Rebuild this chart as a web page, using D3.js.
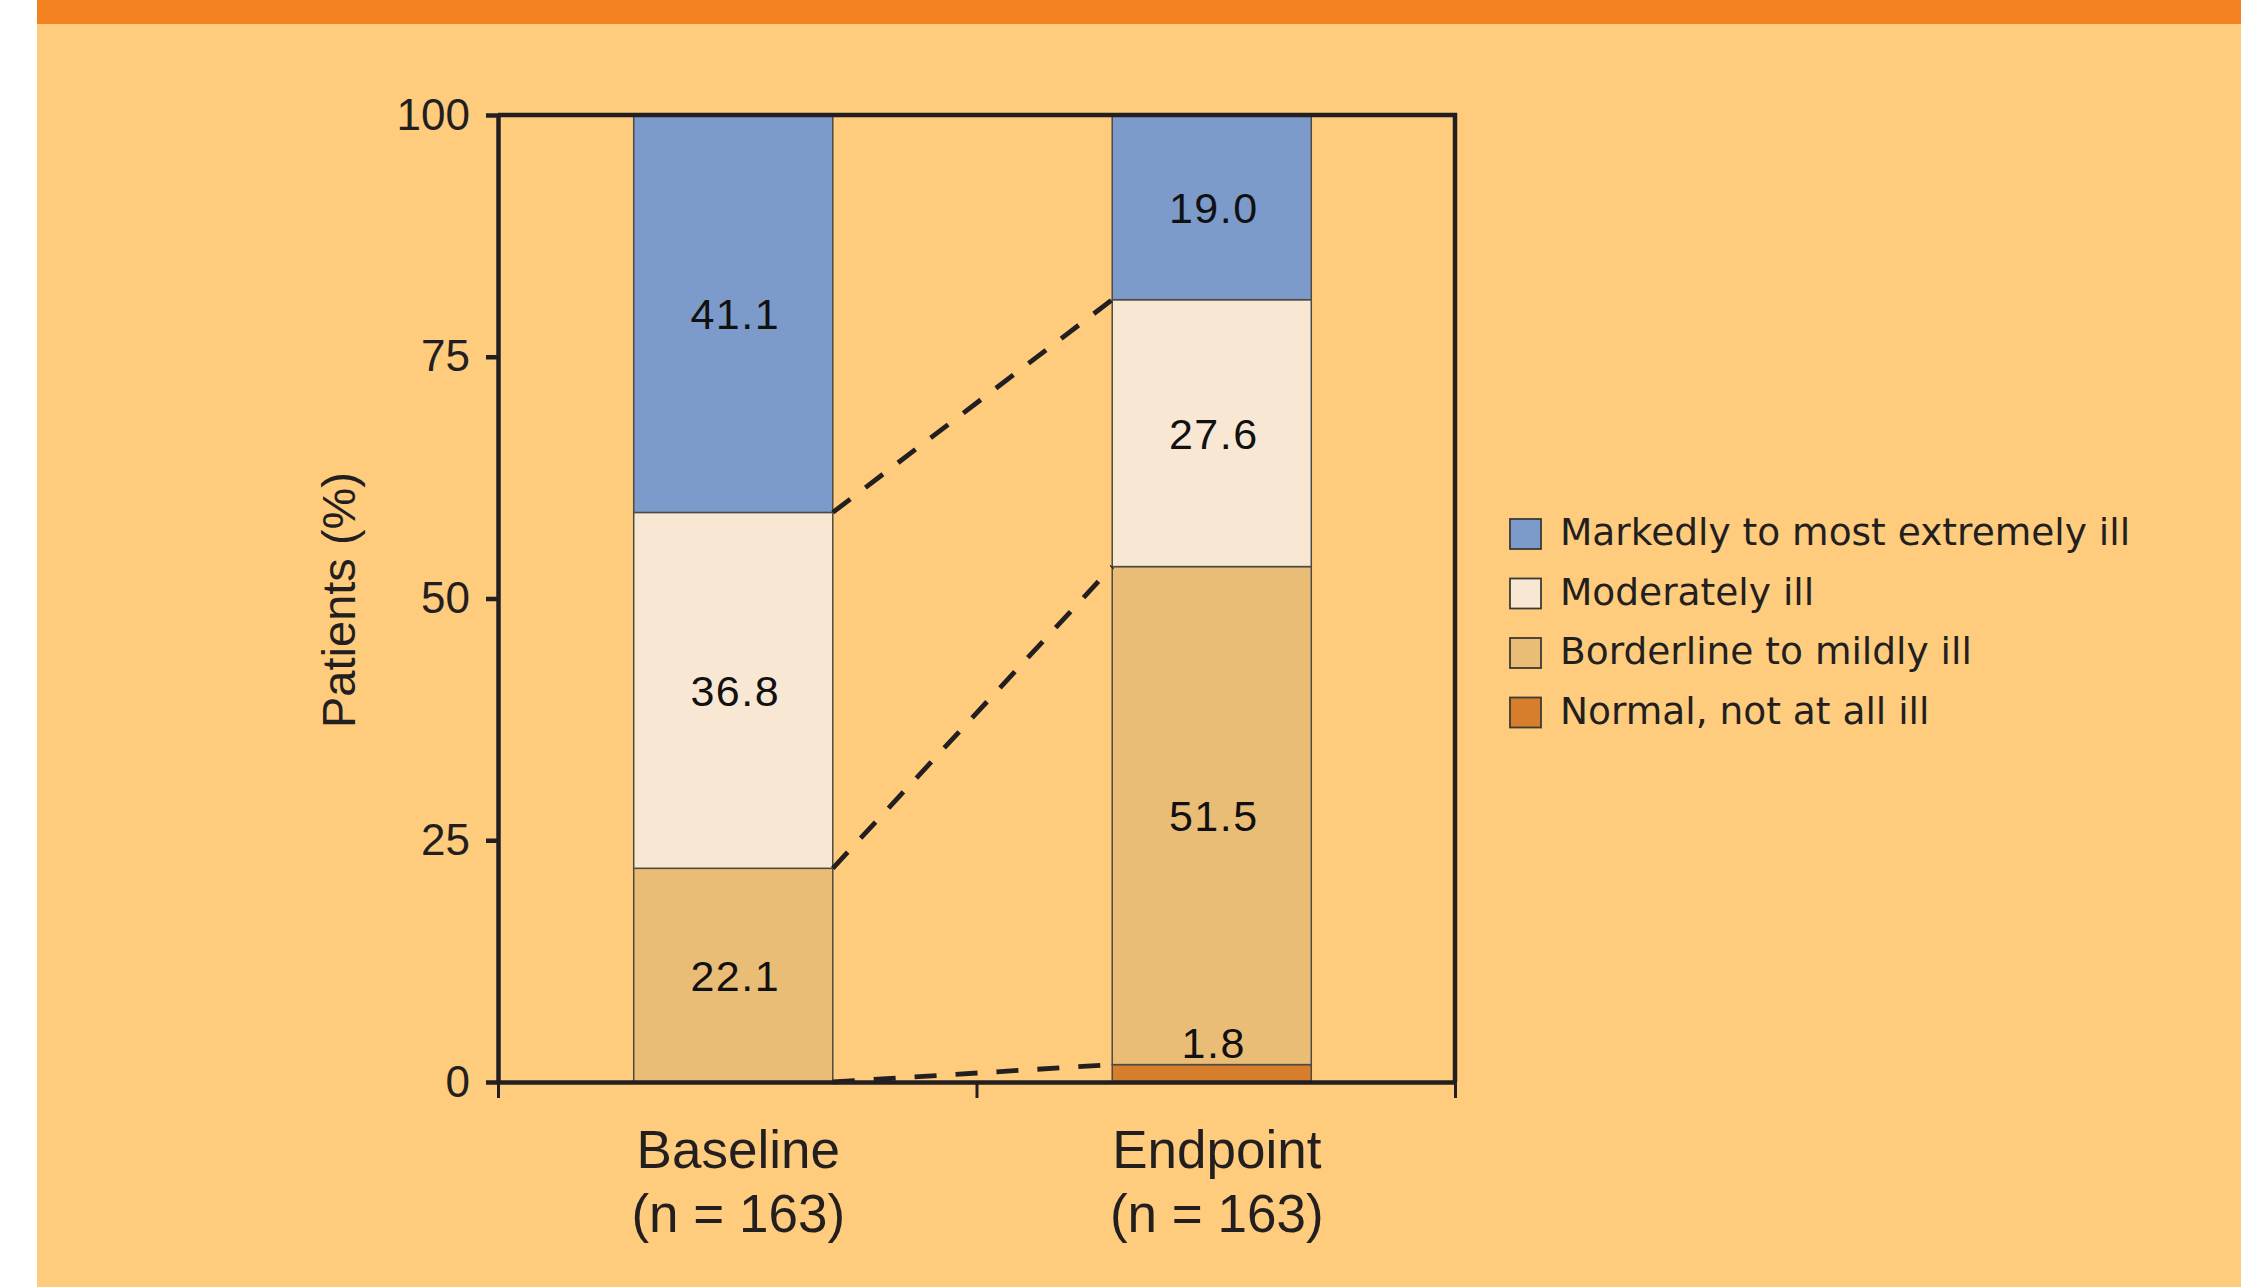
<!DOCTYPE html>
<html>
<head>
<meta charset="utf-8">
<script src="https://cdn.jsdelivr.net/npm/d3@7"></script>
<style>
  html, body { margin: 0; padding: 0; background: #ffffff; }
  svg { display: block; }
</style>
</head>
<body>
<svg id="chart" width="2241" height="1287"></svg>
<script>
// CGI-S severity distribution, baseline vs endpoint (percent of patients)
const groups = ["Baseline", "Endpoint"];
const groupN = ["(n = 163)", "(n = 163)"];
const categories = [
  "Normal, not at all ill",
  "Borderline to mildly ill",
  "Moderately ill",
  "Markedly to most extremely ill"
];
const baselineValues = [0, 22.1, 36.8, 41.1];
const endpointValues = [1.8, 51.5, 27.6, 19.0];
const yTicks = [0, 25, 50, 75, 100];
const colors = ["#D67E2B", "#E9BD75", "#F8E8D3", "#7C9BCB"];

const W = 2241, H = 1287;
const plot = { left: 498, right: 1455, top: 115, bottom: 1082 };
const ink = "#231F20";

const svg = d3.select("#chart");

// page panel: white gutter, orange header strip, peach body
svg.append("rect").attr("x", 0).attr("y", 0).attr("width", W).attr("height", H).attr("fill", "#ffffff");
svg.append("rect").attr("x", 37).attr("y", 0).attr("width", W - 37).attr("height", H).attr("fill", "#FECC7C");
svg.append("rect").attr("x", 37).attr("y", 0).attr("width", W - 37).attr("height", 24).attr("fill", "#F38221");

// scales
const y = d3.scaleLinear().domain([0, 100]).range([plot.bottom, plot.top]);
const x = d3.scaleBand().domain(groups)
  .range([plot.left - 4, plot.right - 4])
  .paddingInner(0.584).paddingOuter(0.292);
const xEdge = d3.scaleLinear().domain([0, groups.length]).range([plot.left, plot.right]);

// stacked rows
const rows = groups.map((g, i) => {
  const vals = i === 0 ? baselineValues : endpointValues;
  const r = { group: g };
  categories.forEach((c, k) => { r[c] = vals[k]; });
  return r;
});
const stacked = d3.stack().keys(categories)(rows);

// bars
const layers = svg.append("g").selectAll("g")
  .data(stacked).join("g")
  .attr("fill", (d, i) => colors[i]);

layers.selectAll("rect")
  .data(d => d.filter(s => s[1] - s[0] > 0))
  .join("rect")
  .attr("x", s => x(s.data.group))
  .attr("width", x.bandwidth())
  .attr("y", s => y(s[1]))
  .attr("height", s => y(s[0]) - y(s[1]))
  .attr("stroke", "#4D4A45")
  .attr("stroke-width", 1.5);

// value labels
const labelFont = "'Liberation Sans', Arial, sans-serif";
stacked.forEach((layer, k) => {
  layer.forEach(s => {
    const v = s[1] - s[0];
    if (v <= 0) return;
    const small = v < 5;
    const cy = small ? y(s[1]) - 22 : (y(s[0]) + y(s[1])) / 2;
    svg.append("text")
      .attr("x", x(s.data.group) + x.bandwidth() / 2 + 2)
      .attr("y", cy)
      .attr("dy", "0.36em")
      .attr("text-anchor", "middle")
      .attr("font-family", labelFont)
      .attr("font-size", 43)
      .attr("letter-spacing", 1.5)
      .attr("fill", "#111111")
      .text(v.toFixed(1));
  });
});

// dashed connectors between matching category boundaries
const connectors = svg.append("g")
  .attr("stroke", ink)
  .attr("stroke-width", 4.8)
  .attr("stroke-dasharray", "22 19")
  .attr("fill", "none");
for (let k = 0; k < categories.length - 1; k++) {
  const a = stacked[k][0][1], b = stacked[k][1][1];
  connectors.append("line")
    .attr("x1", x(groups[0]) + x.bandwidth())
    .attr("y1", y(a))
    .attr("x2", x(groups[1]))
    .attr("y2", y(b));
}

// frame: top and right edges
svg.append("path")
  .attr("d", `M${plot.left},${plot.top}H${plot.right}V${plot.bottom}`)
  .attr("fill", "none").attr("stroke", ink).attr("stroke-width", 4.5);

// y axis
const yAxis = svg.append("g")
  .attr("transform", `translate(${plot.left},0)`)
  .call(d3.axisLeft(y).tickValues(yTicks).tickSize(12).tickPadding(16).tickSizeOuter(0));
yAxis.select(".domain").attr("stroke", ink).attr("stroke-width", 4.5);
yAxis.selectAll(".tick line").attr("stroke", ink).attr("stroke-width", 4.5);
yAxis.selectAll(".tick text")
  .attr("font-family", labelFont).attr("font-size", 44).attr("fill", ink);

// x axis: ticks at group boundaries
const xAxis = svg.append("g")
  .attr("transform", `translate(0,${plot.bottom})`)
  .call(d3.axisBottom(xEdge).tickValues(d3.range(groups.length + 1)).tickSize(16).tickFormat("").tickSizeOuter(0));
xAxis.select(".domain").attr("stroke", ink).attr("stroke-width", 4.5);
xAxis.selectAll(".tick line").attr("stroke", ink).attr("stroke-width", 3);

// group labels
groups.forEach((g, i) => {
  const t = svg.append("text")
    .attr("text-anchor", "middle")
    .attr("font-family", labelFont)
    .attr("font-size", 53)
    .attr("fill", ink);
  const cx = x(g) + x.bandwidth() / 2 + 5;
  t.append("tspan").attr("x", cx).attr("y", 1168).text(g);
  t.append("tspan").attr("x", cx).attr("y", 1232).text(groupN[i]);
});

// y axis title
svg.append("text")
  .attr("transform", `translate(355,600) rotate(-90)`)
  .attr("text-anchor", "middle")
  .attr("font-family", labelFont)
  .attr("font-size", 47)
  .attr("fill", ink)
  .text("Patients (%)");

// legend, most severe first
const legendOrder = d3.range(categories.length).reverse();
const legend = svg.append("g").attr("transform", "translate(1510,519)");
legendOrder.forEach((k, row) => {
  const gy = row * 59.5;
  legend.append("rect")
    .attr("x", 0).attr("y", gy)
    .attr("width", 31).attr("height", 30)
    .attr("fill", colors[k])
    .attr("stroke", "#3C3A36").attr("stroke-width", 1.8);
  legend.append("text")
    .attr("x", 50).attr("y", gy + 15)
    .attr("dy", "0.3em")
    .attr("font-family", "'DejaVu Sans', sans-serif")
    .attr("font-size", 37.5)
    .attr("fill", ink)
    .text(categories[k]);
});
</script>
</body>
</html>
